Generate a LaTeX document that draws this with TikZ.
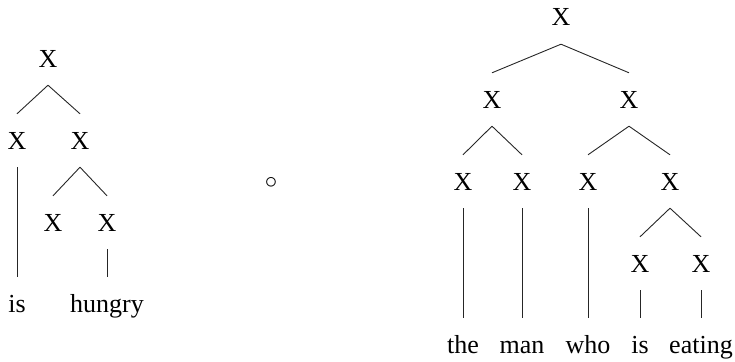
\documentclass[tikz,border=0pt]{standalone}
\usepackage{fontspec}
\setmainfont{Liberation Serif}
\usepackage{tikz}

\begin{document}
\begin{tikzpicture}[x=1pt, y=-1pt,
        treeNode/.style={font=\fontsize{26}{31}\selectfont, anchor=base, text height=17pt, text depth=0pt, inner xsep=2pt, inner ysep=18pt},
        branchLine/.style={line width=0.9pt, draw=black!85}
    ]
        \useasboundingbox (0,0) rectangle (735,361);

        % Left tree: is hungry
        \node[treeNode] (lRoot) at (48,67) {X};
        \node[treeNode] (lLeft) at (17,149) {X};
        \node[treeNode] (lRight) at (80,149) {X};
        \node[treeNode] (lRightA) at (53,231) {X};
        \node[treeNode] (lRightB) at (107,231) {X};
        \node[treeNode] (wIs) at (17,312) {is};
        \node[treeNode] (wHungry) at (107,312) {hungry};

        \draw[branchLine] (lRoot.south) -- (lLeft.north);
        \draw[branchLine] (lRoot.south) -- (lRight.north);
        \draw[branchLine] (lRight.south) -- (lRightA.north);
        \draw[branchLine] (lRight.south) -- (lRightB.north);
        \draw[branchLine] (lLeft.south) -- (wIs.north);
        \draw[branchLine] (lRightB.south) -- (wHungry.north);

        % Composition sign
        \node[font=\fontsize{32}{38}\selectfont] (compose) at (271,183) {$\circ$};

        % Right tree: the man who is eating
        \node[treeNode] (rRoot) at (561,26) {X};
        \node[treeNode] (rLeft) at (492,108) {X};
        \node[treeNode] (rRight) at (629,108) {X};
        \node[treeNode] (rLeftA) at (463,190) {X};
        \node[treeNode] (rLeftB) at (522,190) {X};
        \node[treeNode] (rRightA) at (588,190) {X};
        \node[treeNode] (rRightB) at (670,190) {X};
        \node[treeNode] (rRightBA) at (640,272) {X};
        \node[treeNode] (rRightBB) at (701,272) {X};
        \node[treeNode] (wThe) at (463,353) {the};
        \node[treeNode] (wMan) at (522,353) {man};
        \node[treeNode] (wWho) at (588,353) {who};
        \node[treeNode] (wIsB) at (640,353) {is};
        \node[treeNode] (wEating) at (701,353) {eating};

        \draw[branchLine] (rRoot.south) -- (rLeft.north);
        \draw[branchLine] (rRoot.south) -- (rRight.north);
        \draw[branchLine] (rLeft.south) -- (rLeftA.north);
        \draw[branchLine] (rLeft.south) -- (rLeftB.north);
        \draw[branchLine] (rRight.south) -- (rRightA.north);
        \draw[branchLine] (rRight.south) -- (rRightB.north);
        \draw[branchLine] (rRightB.south) -- (rRightBA.north);
        \draw[branchLine] (rRightB.south) -- (rRightBB.north);
        \draw[branchLine] (rLeftA.south) -- (wThe.north);
        \draw[branchLine] (rLeftB.south) -- (wMan.north);
        \draw[branchLine] (rRightA.south) -- (wWho.north);
        \draw[branchLine] (rRightBA.south) -- (wIsB.north);
        \draw[branchLine] (rRightBB.south) -- (wEating.north);
    \end{tikzpicture}
\end{document}
